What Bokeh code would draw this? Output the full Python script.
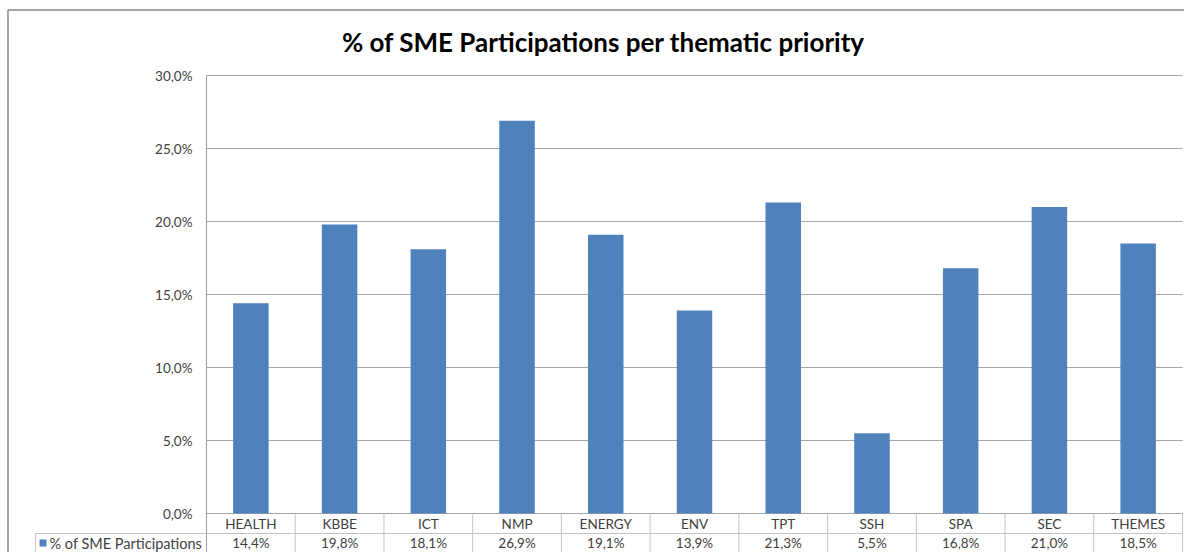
from bokeh.plotting import figure
from bokeh.models import Range1d, FixedTicker, ColumnDataSource
from bokeh.core.properties import value
from bokeh.embed import file_html
from bokeh.resources import INLINE

categories = ["HEALTH", "KBBE", "ICT", "NMP", "ENERGY", "ENV", "TPT", "SSH", "SPA", "SEC", "THEMES"]
share = [14.4, 19.8, 18.1, 26.9, 19.1, 13.9, 21.3, 5.5, 16.8, 21.0, 18.5]
y_ticks = [0, 5, 10, 15, 20, 25, 30]
series_name = "% of SME Participations"
title_text = "% of SME Participations per thematic priority"


def pct(v):
    return f"{v:.1f}".replace(".", ",") + "%"


FONT = "Lato"
BLUE = "#4f81bd"
TXT = "#404040"
GRID = "#a6a6a6"
TABLE = "#c4c4c4"

# ---- layout in canvas pixels ----
fig_w, fig_h = 1184, 552
plot_left, plot_right = 206, 1182      # plot area edges
plot_top, zero_px = 75, 513            # pixel rows of y=30 and y=0
n = len(categories)
px_per_cat = (plot_right - plot_left) / n
px_per_unit = (zero_px - plot_top) / y_ticks[-1]


def dx(px):  # canvas x pixel -> data x
    return (px - plot_left) / px_per_cat


def dy(px):  # canvas y pixel -> data y
    return (zero_px - px) / px_per_unit


x_lo, x_hi = dx(0), dx(fig_w)
y_lo, y_hi = dy(fig_h), dy(0)

p = figure(x_range=Range1d(x_lo, x_hi), y_range=Range1d(y_lo, y_hi),
           width=fig_w, height=fig_h, output_backend="svg", toolbar_location=None,
           min_border=0, background_fill_color="white", border_fill_color="white")
p.xaxis.visible = False
p.xgrid.visible = False
p.ygrid.visible = False
p.outline_line_color = None

ya = p.yaxis[0]
ya.fixed_location = 0
ya.bounds = (y_lo, y_ticks[-1])
ya.ticker = FixedTicker(ticks=y_ticks)
ya.major_label_overrides = {t: pct(t) for t in y_ticks}
ya.major_tick_out = 0
ya.major_tick_in = 0
ya.minor_tick_out = 0
ya.minor_tick_in = 0
ya.axis_line_color = "#9c9c9c"
ya.major_label_standoff = 14
ya.major_label_text_font = FONT
ya.major_label_text_font_size = "13.5px"
ya.major_label_text_color = TXT

# horizontal gridlines at the axis ticks, across the plot area
p.segment(x0=[0] * len(y_ticks), y0=y_ticks, x1=[n] * len(y_ticks), y1=y_ticks,
          line_color=GRID, line_width=1)

# bars
xpos = [i + 0.5 for i in range(n)]
src = ColumnDataSource(dict(x=xpos, cat=categories, top=share, val=[pct(v) for v in share]))
p.vbar(x="x", top="top", width=0.4, source=src, fill_color=BLUE, line_color=None)

# ---- data table under the plot ----
row_split = dy(533)
bounds = list(range(1, n + 1))
p.segment(x0=bounds, y0=[y_lo] * n, x1=bounds, y1=[0] * n, line_color=TABLE, line_width=1)
p.segment(x0=[dx(35)], y0=[row_split], x1=[n], y1=[row_split], line_color=TABLE, line_width=1)
p.segment(x0=[dx(35)], y0=[row_split], x1=[dx(35)], y1=[y_lo], line_color=TABLE, line_width=1)

p.text(x="x", y=dy(523), text="cat", source=src, text_align="center", text_baseline="middle",
       text_font=value(FONT), text_font_size="13.5px", text_color=TXT)
p.text(x="x", y=dy(542.5), text="val", source=src, text_align="center", text_baseline="middle",
       text_font=value(FONT), text_font_size="13.5px", text_color=TXT)

# legend key of the table row
p.quad(left=[dx(39)], right=[dx(46)], top=[dy(539)], bottom=[dy(546)],
       fill_color=BLUE, line_color=None)
p.text(x=[dx(49)], y=[dy(542.5)], text=[series_name], text_align="left", text_baseline="middle",
       text_font=value(FONT), text_font_size="14.5px", text_color=TXT)

# title
p.text(x=[dx(603)], y=[dy(41)], text=[title_text], text_align="center", text_baseline="middle",
       text_font=value(FONT), text_font_size="26px", text_font_style="bold", text_color="#000000")

# outer chart border (top and left edges)
p.segment(x0=[dx(7.5), dx(7.5)], y0=[dy(9.5), dy(9.5)], x1=[dx(7.5), x_hi], y1=[y_lo, dy(9.5)],
          line_color="#878787", line_width=1.5)

open("out.html", "w").write(file_html(p, INLINE))
